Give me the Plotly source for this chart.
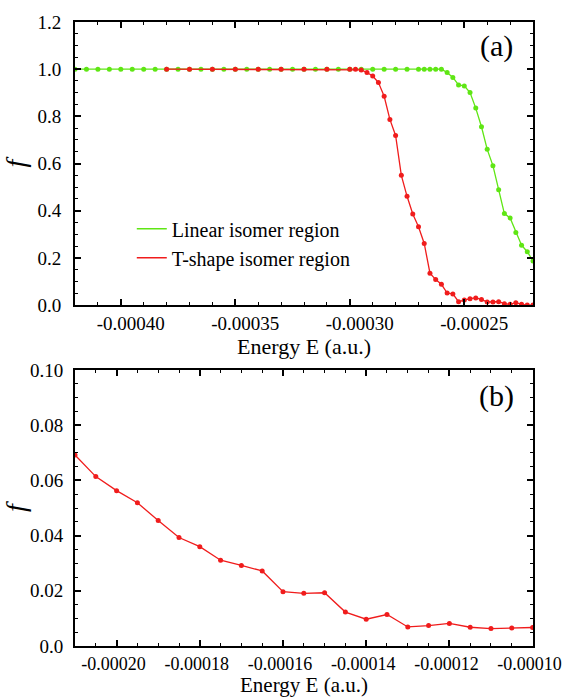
import plotly.graph_objects as go

# ---------------- data: panel (a) ----------------
linear_E = [-0.00042 + i * 0.000005 for i in range(31)] + [
    -0.0002675, -0.000265, -0.0002625, -0.00026, -0.0002575, -0.000255,
    -0.0002525, -0.00025, -0.0002475, -0.000245, -0.0002425, -0.00024,
    -0.0002375, -0.000235, -0.0002325, -0.00023, -0.0002275, -0.000225,
    -0.0002225, -0.00022]
linear_f = [1.0] * 31 + [
    1.0, 1.0, 1.0, 1.0, 0.986, 0.965,
    0.933, 0.929, 0.901, 0.835, 0.756, 0.660,
    0.591, 0.489, 0.388, 0.369, 0.308, 0.254,
    0.226, 0.187]

tshape_E = [-0.00038, -0.00037, -0.00036, -0.00035, -0.00034, -0.00033,
            -0.00032, -0.00031, -0.00030,
            -0.0002975, -0.000295, -0.0002925, -0.00029, -0.0002875, -0.000285,
            -0.0002825, -0.00028, -0.0002775, -0.000275, -0.0002725, -0.00027,
            -0.0002675, -0.000265, -0.0002625, -0.00026, -0.0002575, -0.000255,
            -0.0002525, -0.00025, -0.0002475, -0.000245, -0.0002425, -0.00024,
            -0.0002375, -0.000235, -0.0002325, -0.00023, -0.0002275, -0.000225,
            -0.0002225, -0.00022]
tshape_f = [1.0, 1.0, 1.0, 1.0, 1.0, 1.0,
            1.0, 1.0, 1.0,
            1.0, 0.997, 0.986, 0.971, 0.943, 0.885,
            0.787, 0.719, 0.550, 0.461, 0.386, 0.332,
            0.261, 0.135, 0.108, 0.088, 0.051, 0.047,
            0.014, 0.021, 0.027, 0.030, 0.024, 0.013,
            0.013, 0.014, 0.006, 0.003, 0.010, 0.003,
            0.0, 0.0]

# ---------------- data: panel (b) ----------------
b_E = [-0.00021 + i * 0.000005 for i in range(23)]
b_f = [0.0692, 0.0614, 0.0563, 0.0519, 0.0455, 0.0393, 0.0360, 0.0311, 0.0292,
       0.0272, 0.0197, 0.0191, 0.0193, 0.0123, 0.0097, 0.0114, 0.0069, 0.0074,
       0.0082, 0.0068, 0.0063, 0.0065, 0.0067]

# ---------------- ticks ----------------
a_xticks = [-0.00040, -0.00035, -0.00030, -0.00025]
a_xlabels = ["-0.00040", "-0.00035", "-0.00030", "-0.00025"]
a_yticks = [0.0, 0.2, 0.4, 0.6, 0.8, 1.0, 1.2]
a_ylabels = ["0.0", "0.2", "0.4", "0.6", "0.8", "1.0", "1.2"]
b_xticks = [-0.00020, -0.00018, -0.00016, -0.00014, -0.00012, -0.00010]
b_xlabels = ["-0.00020", "-0.00018", "-0.00016", "-0.00014", "-0.00012", "-0.00010"]
b_yticks = [0.0, 0.02, 0.04, 0.06, 0.08, 0.10]
b_ylabels = ["0.0", "0.02", "0.04", "0.06", "0.08", "0.10"]

GREEN = "#5fe614"
RED = "#f01c1c"
FONT = "Liberation Serif"

fig = go.Figure()
fig.add_trace(go.Scatter(x=linear_E, y=linear_f, mode="lines+markers",
                         line=dict(color=GREEN, width=1.3),
                         marker=dict(color=GREEN, size=5),
                         showlegend=False, xaxis="x", yaxis="y"))
fig.add_trace(go.Scatter(x=tshape_E, y=tshape_f, mode="lines+markers",
                         line=dict(color=RED, width=1.3),
                         marker=dict(color=RED, size=5),
                         showlegend=False, xaxis="x", yaxis="y"))
# legend entries (lines only, as in the reference)
fig.add_trace(go.Scatter(x=[None], y=[None], mode="lines", name="Linear isomer region",
                         line=dict(color=GREEN, width=1.5), xaxis="x", yaxis="y"))
fig.add_trace(go.Scatter(x=[None], y=[None], mode="lines", name="T-shape isomer region",
                         line=dict(color=RED, width=1.5), xaxis="x", yaxis="y"))
fig.add_trace(go.Scatter(x=b_E, y=b_f, mode="lines+markers",
                         line=dict(color=RED, width=1.3),
                         marker=dict(color=RED, size=5),
                         showlegend=False, xaxis="x2", yaxis="y2"))


def axis_common():
    return dict(showline=True, linecolor="black", linewidth=2, mirror="ticks",
                ticks="inside", ticklen=6, tickwidth=1.5, tickcolor="black",
                showgrid=False, zeroline=False,
                tickfont=dict(family=FONT, size=19, color="black"))


# plot area: top = 22 px, bottom axis line of panel (b) at 646 px
xa = axis_common()
xa.update(domain=[0, 1], anchor="y", range=[-0.00042, -0.00022],
          tickmode="array", tickvals=a_xticks, ticktext=a_xlabels,
          ticklabelshift=10,
          minor=dict(tick0=0, dtick=0.00001, ticks="inside", ticklen=3,
                     tickwidth=1.2, tickcolor="black"),
          title=dict(text="Energy E (a.u.)", standoff=0,
                     font=dict(family=FONT, size=22, color="black")))
ya = axis_common()
ya.update(domain=[0.5464, 1], anchor="x", range=[0, 1.2],
          tickmode="array", tickvals=a_yticks, ticktext=a_ylabels,
          ticklabelstandoff=8,
          minor=dict(tick0=0, dtick=0.05, ticks="inside", ticklen=3,
                     tickwidth=1.2, tickcolor="black"),
          title=dict(text="<i>f</i>", standoff=5,
                     font=dict(family=FONT, size=28, color="black")))
xb = axis_common()
xb.update(domain=[0, 1], anchor="y2", range=[-0.00021, -0.0000999],
          tickmode="array", tickvals=b_xticks, ticktext=b_xlabels,
          ticklabelshift=-3, tickfont=dict(family=FONT, size=18, color="black"),
          minor=dict(tick0=0, dtick=0.000005, ticks="inside", ticklen=3,
                     tickwidth=1.2, tickcolor="black"),
          title=dict(text="Energy E (a.u.)", standoff=1,
                     font=dict(family=FONT, size=21, color="black")))
yb = axis_common()
yb.update(domain=[0, 0.4422], anchor="x2", range=[0, 0.10],
          tickmode="array", tickvals=b_yticks, ticktext=b_ylabels,
          ticklabelstandoff=6,
          minor=dict(tick0=0, dtick=0.005, ticks="inside", ticklen=3,
                     tickwidth=1.2, tickcolor="black"),
          title=dict(text="<i>f</i>", standoff=3,
                     font=dict(family=FONT, size=28, color="black")))

fig.update_layout(
    width=565, height=697,
    margin=dict(l=75, r=32, t=22, b=51, autoexpand=False),
    paper_bgcolor="white", plot_bgcolor="white",
    font=dict(family=FONT, color="black"),
    xaxis=xa, yaxis=ya, xaxis2=xb, yaxis2=yb,
    legend=dict(x=0.124, y=0.70, xanchor="left", yanchor="top",
                bgcolor="rgba(0,0,0,0)", borderwidth=0,
                font=dict(family=FONT, size=20, color="black"),
                tracegroupgap=0),
    annotations=[
        dict(text="(a)", xref="x domain", yref="y domain", x=0.92, y=0.915,
             xanchor="center", yanchor="middle",
             showarrow=False, font=dict(family=FONT, size=30, color="black")),
        dict(text="(b)", xref="x2 domain", yref="y2 domain", x=0.92, y=0.905,
             xanchor="center", yanchor="middle",
             showarrow=False, font=dict(family=FONT, size=30, color="black")),
    ],
)

fig.write_html("out.html")
